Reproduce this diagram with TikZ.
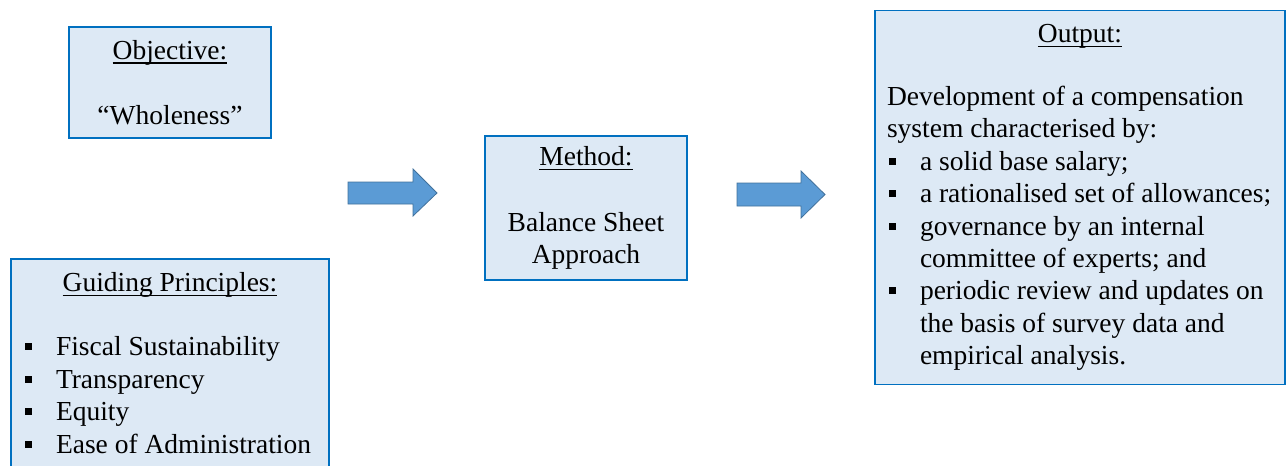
\documentclass[tikz,border=0pt]{standalone}
\usepackage{fontspec}
\setmainfont{Liberation Serif}
\usepackage{tikz}
\definecolor{boxline}{RGB}{0,112,192}
\definecolor{boxfill}{RGB}{221,233,245}
\definecolor{arrowline}{RGB}{65,113,156}
\definecolor{arrowfill}{RGB}{91,155,213}
\newcommand{\hdr}[1]{\setbox0\hbox{#1}\rlap{\rule[-4.5pt]{\wd0}{1.4pt}}\box0}
\newcommand{\sqbullet}{\makebox[33pt][l]{\hspace{2pt}\rule[5.5pt]{7pt}{7pt}}}
\newcommand{\cont}{\hspace*{33pt}}
\tikzset{
  box_font/.style = {font=\fontsize{27.5}{32.4}\selectfont},
  info_box/.style = {box_font, draw=boxline, line width=1.8pt, fill=boxfill, inner xsep=12pt, inner ysep=0pt},
  centered_box/.style = {info_box, align=center},
  list_box/.style = {info_box, align=left},
  block_arrow/.style = {draw=arrowline, line width=0.8pt, fill=arrowfill, line join=miter}
}
\begin{document}
\begin{tikzpicture}[x=1pt, y=-1pt]
    \useasboundingbox (0,0) rectangle (1286,466);

    % Left column
    \node[centered_box, minimum width=202, minimum height=111] at (170,82.5) (obj) {
        \hdr{Objective:}\\[32.5pt]
        ``Wholeness''
        };
    \node[list_box, anchor=north, minimum width=318, inner ysep=14pt] at (170,258) (guide) {
        \makebox[294pt]{\hdr{Guiding Principles:}}\\[31.5pt]
        \sqbullet Fiscal Sustainability\\
        \sqbullet Transparency\\
        \sqbullet Equity\\
        \sqbullet Ease of Administration
        };

    % Middle
    \node[centered_box, minimum width=202, minimum height=144] at (586,208) (meth) {
        \hdr{Method:}\\[33pt]
        Balance Sheet\\
        Approach
        };

    % Right
    \node[list_box, minimum width=410, minimum height=374] at (1080,197.5) (out) {
        \makebox[386pt]{\hdr{Output:}}\\[30.5pt]
        Development of a compensation\\
        system characterised by:\\
        \sqbullet a solid base salary;\\
        \sqbullet a rationalised set of allowances;\\
        \sqbullet governance by an internal\\
        \cont committee of experts; and\\
        \sqbullet periodic review and updates on\\
        \cont the basis of survey data and\\
        \cont empirical analysis.
        };

    % Block arrows
    \draw[block_arrow] (348,182) -- (413,182) -- (413,169) -- (437,193)
        -- (413,216) -- (413,204) -- (348,204) -- cycle;
    \draw[block_arrow] (737,183) -- (801,183) -- (801,171) -- (825,194.5)
        -- (801,218) -- (801,206) -- (737,206) -- cycle;
\end{tikzpicture}
\end{document}
